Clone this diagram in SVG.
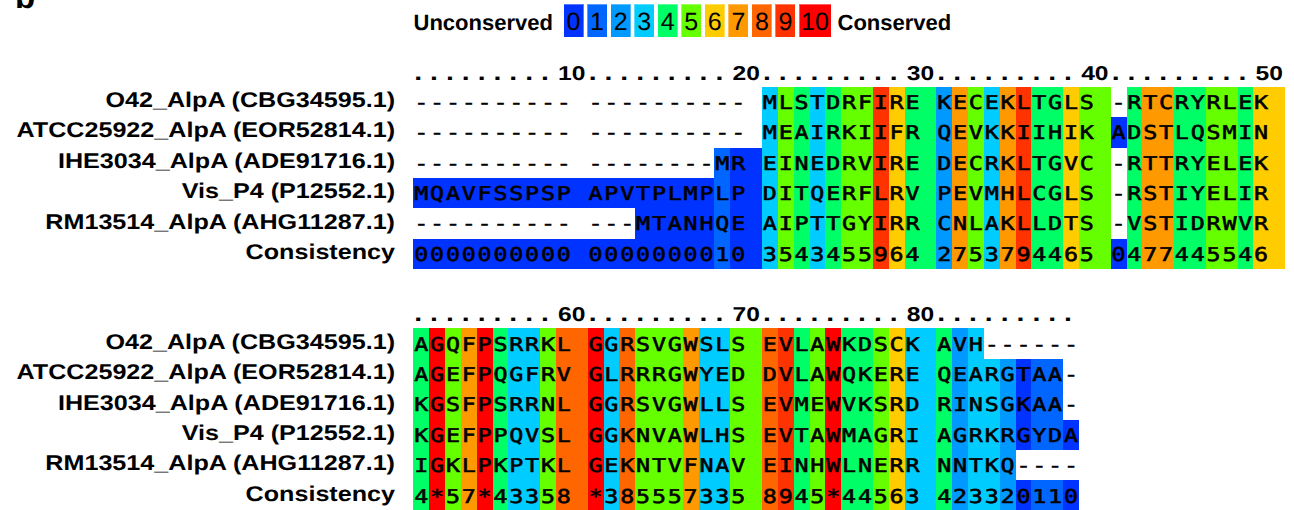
<svg xmlns="http://www.w3.org/2000/svg" width="1294" height="510" viewBox="0 0 1294 510">
<style>
.c0{fill:#0033ff}.c1{fill:#0066ff}.c2{fill:#0099ff}.c3{fill:#00ccff}.c4{fill:#00ff66}.c5{fill:#66ff00}.c6{fill:#ffcc00}.c7{fill:#ff9900}.c8{fill:#ff6600}.c9{fill:#ff3300}.c10{fill:#ff0000}.w{fill:#ffffff}
rect{shape-rendering:crispEdges}
text{fill:#000;text-rendering:geometricPrecision}
.lab{font-family:"Liberation Sans",Arial,sans-serif;font-weight:bold;font-size:21.3px;text-anchor:end}
.seq{font-family:"DejaVu Sans Mono",monospace;font-size:19px;letter-spacing:1.445px;white-space:pre;stroke:#000;stroke-width:0.55px}
.rul{font-family:"Liberation Sans",Arial,sans-serif;font-weight:bold;font-size:20px}
.dots{font-size:23px;letter-spacing:6.492px}
.num{text-anchor:middle}
.leg{font-family:"Liberation Sans",Arial,sans-serif;font-weight:bold;font-size:22px}
.legd{font-family:"Liberation Sans",Arial,sans-serif;font-size:25px;text-anchor:middle}
.lb{stroke:#ffffff;stroke-opacity:0.35;stroke-width:1}
</style>
<rect x="0" y="0" width="1294" height="510" class="w"/>
<text x="15" y="7.5" style="font-family:'Liberation Sans',Arial,sans-serif;font-weight:bold;font-size:33px">b</text>

<g id="legend">
<text class="leg" x="413.5" y="29.5">Unconserved</text>
<rect class="c0 lb" x="563.5" y="4" width="20" height="33"/>
<rect class="c1 lb" x="587.05" y="4" width="20" height="33"/>
<rect class="c2 lb" x="610.6" y="4" width="20" height="33"/>
<rect class="c3 lb" x="634.15" y="4" width="20" height="33"/>
<rect class="c4 lb" x="657.7" y="4" width="20" height="33"/>
<rect class="c5 lb" x="681.25" y="4" width="20" height="33"/>
<rect class="c6 lb" x="704.8" y="4" width="20" height="33"/>
<rect class="c7 lb" x="728.35" y="4" width="20" height="33"/>
<rect class="c8 lb" x="751.9" y="4" width="20" height="33"/>
<rect class="c9 lb" x="775.45" y="4" width="20" height="33"/>
<rect class="c10 lb" x="799" y="4" width="32" height="33"/>
<text class="legd" x="573.5" y="30">0</text>
<text class="legd" x="597.05" y="30">1</text>
<text class="legd" x="620.6" y="30">2</text>
<text class="legd" x="644.15" y="30">3</text>
<text class="legd" x="667.7" y="30">4</text>
<text class="legd" x="691.25" y="30">5</text>
<text class="legd" x="714.8" y="30">6</text>
<text class="legd" x="738.35" y="30">7</text>
<text class="legd" x="761.9" y="30">8</text>
<text class="legd" x="785.45" y="30">9</text>
<text class="legd" x="815" y="30">10</text>
<text class="leg" x="837.5" y="29.5">Conserved</text>
</g>

<g id="block1">
<g id="block1-colours">
<rect class="c0" x="413.3" y="86.7" width="301.15" height="182.4"/>
<rect class="c1" x="714.45" y="86.7" width="15.85" height="182.4"/>
<rect class="c0" x="730.3" y="86.7" width="31.7" height="182.4"/>
<rect class="c3" x="762" y="86.7" width="15.85" height="182.4"/>
<rect class="c5" x="777.85" y="86.7" width="15.85" height="182.4"/>
<rect class="c4" x="793.7" y="86.7" width="15.85" height="182.4"/>
<rect class="c3" x="809.55" y="86.7" width="15.85" height="182.4"/>
<rect class="c4" x="825.4" y="86.7" width="15.85" height="182.4"/>
<rect class="c5" x="841.25" y="86.7" width="31.7" height="182.4"/>
<rect class="c9" x="872.95" y="86.7" width="15.85" height="182.4"/>
<rect class="c6" x="888.8" y="86.7" width="15.85" height="182.4"/>
<rect class="c4" x="904.65" y="86.7" width="31.7" height="182.4"/>
<rect class="c2" x="936.35" y="86.7" width="15.85" height="182.4"/>
<rect class="c7" x="952.2" y="86.7" width="15.85" height="182.4"/>
<rect class="c5" x="968.05" y="86.7" width="15.85" height="182.4"/>
<rect class="c3" x="983.9" y="86.7" width="15.85" height="182.4"/>
<rect class="c7" x="999.75" y="86.7" width="15.85" height="182.4"/>
<rect class="c9" x="1015.6" y="86.7" width="15.85" height="182.4"/>
<rect class="c4" x="1031.45" y="86.7" width="31.7" height="182.4"/>
<rect class="c6" x="1063.15" y="86.7" width="15.85" height="182.4"/>
<rect class="c5" x="1079" y="86.7" width="31.7" height="182.4"/>
<rect class="c0" x="1110.7" y="86.7" width="15.85" height="182.4"/>
<rect class="c4" x="1126.55" y="86.7" width="15.85" height="182.4"/>
<rect class="c7" x="1142.4" y="86.7" width="31.7" height="182.4"/>
<rect class="c4" x="1174.1" y="86.7" width="31.7" height="182.4"/>
<rect class="c5" x="1205.8" y="86.7" width="31.7" height="182.4"/>
<rect class="c4" x="1237.5" y="86.7" width="15.85" height="182.4"/>
<rect class="c6" x="1253.35" y="86.7" width="31.7" height="182.4"/>
<rect class="w" x="413.3" y="86.7" width="348.7" height="60.8"/>
<rect class="w" x="413.3" y="147.5" width="301.15" height="30.4"/>
<rect class="w" x="413.3" y="208.3" width="221.9" height="30.4"/>
<rect class="w" x="1110.7" y="86.7" width="15.85" height="30.4"/>
<rect class="w" x="1110.7" y="147.5" width="15.85" height="91.2"/>
</g>
<g transform="scale(1.18,1)">
<text class="lab" x="334.75" y="107">O42_AlpA (CBG34595.1)</text>
<text class="lab" x="334.75" y="137.4">ATCC25922_AlpA (EOR52814.1)</text>
<text class="lab" x="334.75" y="167.8">IHE3034_AlpA (ADE91716.1)</text>
<text class="lab" x="334.75" y="198.2">Vis_P4 (P12552.1)</text>
<text class="lab" x="334.75" y="228.6">RM13514_AlpA (AHG11287.1)</text>
<text class="lab" x="334.75" y="259">Consistency</text>
</g>
<g transform="scale(1.23,1)">
<text class="rul dots" x="336.82" y="80">.........</text>
<text class="rul dots" x="478.57" y="80">.........</text>
<text class="rul dots" x="620.31" y="80">.........</text>
<text class="rul dots" x="762.06" y="80">.........</text>
<text class="rul dots" x="903.8" y="80">.........</text>
<text class="rul num" x="464.88" y="80">10</text>
<text class="rul num" x="606.63" y="80">20</text>
<text class="rul num" x="748.37" y="80">30</text>
<text class="rul num" x="890.12" y="80">40</text>
<text class="rul num" x="1031.86" y="80">50</text>
<text class="seq" x="336.74" y="108.8">---------- ---------- MLSTDRFIRE KECEKLTGLS -RTCRYRLEK</text>
<text class="seq" x="336.74" y="139.2">---------- ---------- MEAIRKIIFR QEVKKIIHIK ADSTLQSMIN</text>
<text class="seq" x="336.74" y="169.6">---------- --------MR EINEDRVIRE DECRKLTGVC -RTTRYELEK</text>
<text class="seq" x="336.74" y="200">MQAVFSSPSP APVTPLMPLP DITQERFLRV PEVMHLCGLS -RSTIYELIR</text>
<text class="seq" x="336.74" y="230.4">---------- ---MTANHQE AIPTTGYIRR CNLAKLLDTS -VSTIDRWVR</text>
<text class="seq" x="336.74" y="260.8">0000000000 0000000010 3543455964 2753794465 0477445546</text>
</g>
</g>

<g id="block2">
<g id="block2-colours">
<rect class="c4" x="413.3" y="328.4" width="15.85" height="182.4"/>
<rect class="c10" x="429.15" y="328.4" width="15.85" height="182.4"/>
<rect class="c5" x="445" y="328.4" width="15.85" height="182.4"/>
<rect class="c7" x="460.85" y="328.4" width="15.85" height="182.4"/>
<rect class="c10" x="476.7" y="328.4" width="15.85" height="182.4"/>
<rect class="c4" x="492.55" y="328.4" width="15.85" height="182.4"/>
<rect class="c3" x="508.4" y="328.4" width="31.7" height="182.4"/>
<rect class="c5" x="540.1" y="328.4" width="15.85" height="182.4"/>
<rect class="c8" x="555.95" y="328.4" width="31.7" height="182.4"/>
<rect class="c10" x="587.65" y="328.4" width="15.85" height="182.4"/>
<rect class="c3" x="603.5" y="328.4" width="15.85" height="182.4"/>
<rect class="c8" x="619.35" y="328.4" width="15.85" height="182.4"/>
<rect class="c5" x="635.2" y="328.4" width="47.55" height="182.4"/>
<rect class="c7" x="682.75" y="328.4" width="15.85" height="182.4"/>
<rect class="c3" x="698.6" y="328.4" width="31.7" height="182.4"/>
<rect class="c5" x="730.3" y="328.4" width="31.7" height="182.4"/>
<rect class="c8" x="762" y="328.4" width="15.85" height="182.4"/>
<rect class="c9" x="777.85" y="328.4" width="15.85" height="182.4"/>
<rect class="c4" x="793.7" y="328.4" width="15.85" height="182.4"/>
<rect class="c5" x="809.55" y="328.4" width="15.85" height="182.4"/>
<rect class="c10" x="825.4" y="328.4" width="15.85" height="182.4"/>
<rect class="c4" x="841.25" y="328.4" width="31.7" height="182.4"/>
<rect class="c5" x="872.95" y="328.4" width="15.85" height="182.4"/>
<rect class="c6" x="888.8" y="328.4" width="15.85" height="182.4"/>
<rect class="c3" x="904.65" y="328.4" width="31.7" height="182.4"/>
<rect class="c4" x="936.35" y="328.4" width="15.85" height="182.4"/>
<rect class="c2" x="952.2" y="328.4" width="15.85" height="182.4"/>
<rect class="c3" x="968.05" y="328.4" width="31.7" height="182.4"/>
<rect class="c2" x="999.75" y="328.4" width="15.85" height="182.4"/>
<rect class="c0" x="1015.6" y="328.4" width="15.85" height="182.4"/>
<rect class="c1" x="1031.45" y="328.4" width="31.7" height="182.4"/>
<rect class="c0" x="1063.15" y="328.4" width="15.85" height="182.4"/>
<rect class="w" x="983.9" y="328.4" width="95.1" height="30.4"/>
<rect class="w" x="1063.15" y="358.8" width="15.85" height="60.8"/>
<rect class="w" x="1015.6" y="450" width="63.4" height="30.4"/>
</g>
<g transform="scale(1.18,1)">
<text class="lab" x="334.75" y="348.7">O42_AlpA (CBG34595.1)</text>
<text class="lab" x="334.75" y="379.1">ATCC25922_AlpA (EOR52814.1)</text>
<text class="lab" x="334.75" y="409.5">IHE3034_AlpA (ADE91716.1)</text>
<text class="lab" x="334.75" y="439.9">Vis_P4 (P12552.1)</text>
<text class="lab" x="334.75" y="470.3">RM13514_AlpA (AHG11287.1)</text>
<text class="lab" x="334.75" y="500.7">Consistency</text>
</g>
<g transform="scale(1.23,1)">
<text class="rul dots" x="336.82" y="321">.........</text>
<text class="rul dots" x="478.57" y="321">.........</text>
<text class="rul dots" x="620.31" y="321">.........</text>
<text class="rul dots" x="762.06" y="321">.........</text>
<text class="rul num" x="464.88" y="321">60</text>
<text class="rul num" x="606.63" y="321">70</text>
<text class="rul num" x="748.37" y="321">80</text>
<text class="seq" x="336.74" y="350.5">AGQFPSRRKL GGRSVGWSLS EVLAWKDSCK AVH------</text>
<text class="seq" x="336.74" y="380.9">AGEFPQGFRV GLRRRGWYED DVLAWQKERE QEARGTAA-</text>
<text class="seq" x="336.74" y="411.3">KGSFPSRRNL GGRSVGWLLS EVMEWVKSRD RINSGKAA-</text>
<text class="seq" x="336.74" y="441.7">KGEFPPQVSL GGKNVAWLHS EVTAWMAGRI AGRKRGYDA</text>
<text class="seq" x="336.74" y="472.1">IGKLPKPTKL GEKNTVFNAV EINHWLNERR NNTKQ----</text>
<text class="seq" x="336.74" y="502.5">4*57*43358 *385557335 8945*44563 423320110</text>
</g>
</g>
</svg>
